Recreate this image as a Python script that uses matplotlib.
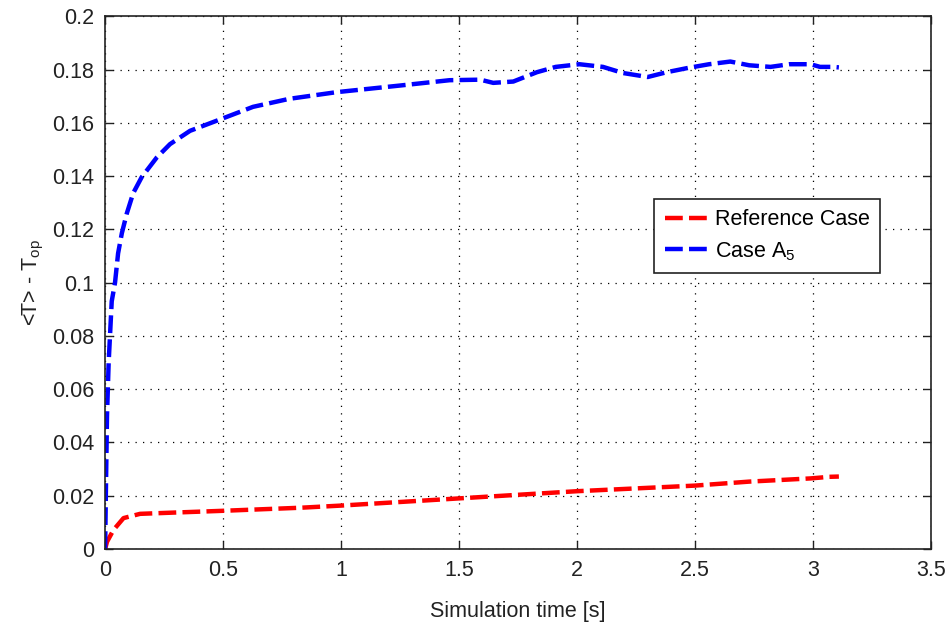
import matplotlib
matplotlib.use("Agg")
import matplotlib.pyplot as plt

# === Datos ===
t_case = [0.0, 0.003, 0.008, 0.015, 0.028, 0.042, 0.055, 0.071, 0.092, 0.119,
          0.155, 0.219, 0.275, 0.36, 0.5, 0.627, 0.78, 0.98, 1.25, 1.46, 1.59,
          1.645, 1.73, 1.83, 1.91, 2.01, 2.11, 2.195, 2.30, 2.38, 2.47, 2.56,
          2.65, 2.73, 2.82, 2.90, 2.99, 3.03, 3.085, 3.11]
T_case = [0.0, 0.02, 0.05, 0.07, 0.093, 0.1, 0.111, 0.1186, 0.126, 0.1336,
          0.1396, 0.147, 0.152, 0.157, 0.1617, 0.166, 0.169, 0.1715, 0.174, 0.176, 0.1762,
          0.175, 0.1755, 0.179, 0.181, 0.182, 0.181, 0.1787, 0.1772, 0.179, 0.1806, 0.182,
          0.183, 0.1816, 0.181, 0.182, 0.182, 0.181, 0.181, 0.1808]

t_ref = [0.0, 0.008, 0.035, 0.078, 0.148, 0.3, 0.487, 0.83, 1.0, 1.5, 2.0,
         2.5, 2.73, 2.99, 3.07, 3.11]
T_ref = [0.0, 0.0027, 0.0071, 0.0116, 0.0132, 0.0137, 0.0143, 0.0155, 0.0163, 0.019, 0.0217,
         0.0238, 0.0253, 0.0265, 0.0271, 0.0272]

xticks = [0, 0.5, 1, 1.5, 2, 2.5, 3, 3.5]
yticks = [0, 0.02, 0.04, 0.06, 0.08, 0.1, 0.12, 0.14, 0.16, 0.18, 0.2]

plt.rcParams['font.family'] = ['Liberation Sans', 'DejaVu Sans']
plt.rcParams['mathtext.fontset'] = 'custom'
plt.rcParams['mathtext.rm'] = 'Liberation Sans'

fig = plt.figure(figsize=(9.47, 6.26), dpi=100)
ax = fig.add_axes([0.111, 0.123, 0.872, 0.851])

ax.plot(t_ref, T_ref, color='#ff0000', lw=3.2, dashes=(4, 1.4), label='Reference Case')
ax.plot(t_case, T_case, color='#0000ff', lw=3.2, dashes=(4, 1.4), label=r'Case A$_5$')

ax.set_xlim(0, 3.5)
ax.set_ylim(0, 0.2)
ax.set_xticks(xticks)
ax.set_xticklabels(['0', '0.5', '1', '1.5', '2', '2.5', '3', '3.5'])
ax.set_yticks(yticks)
ax.set_yticklabels(['0', '0.02', '0.04', '0.06', '0.08', '0.1', '0.12', '0.14',
                    '0.16', '0.18', '0.2'])
ax.tick_params(direction='in', top=True, right=True, length=6, width=1,
               labelsize=15.5, colors='#222222', pad=8)
for s in ax.spines.values():
    s.set_linewidth(1.2)
    s.set_color('#222222')
ax.grid(True, color='black', linestyle=(0, (1, 5)), linewidth=0.9)

ax.set_xlabel('Simulation time [s]', fontsize=15.5, color='#222222', labelpad=14)
ax.set_ylabel(r'<T> - T$_{\rm op}$', fontsize=15.5, color='#222222', labelpad=4)

leg = ax.legend(loc='upper left', bbox_to_anchor=(0.652, 0.678), fontsize=15.5,
                fancybox=False, framealpha=1, edgecolor='#222222',
                handlelength=2.0, handletextpad=0.3, borderpad=0.5, labelspacing=0.45)
leg.get_frame().set_linewidth(1.2)

fig.savefig('out.png', dpi=100)
